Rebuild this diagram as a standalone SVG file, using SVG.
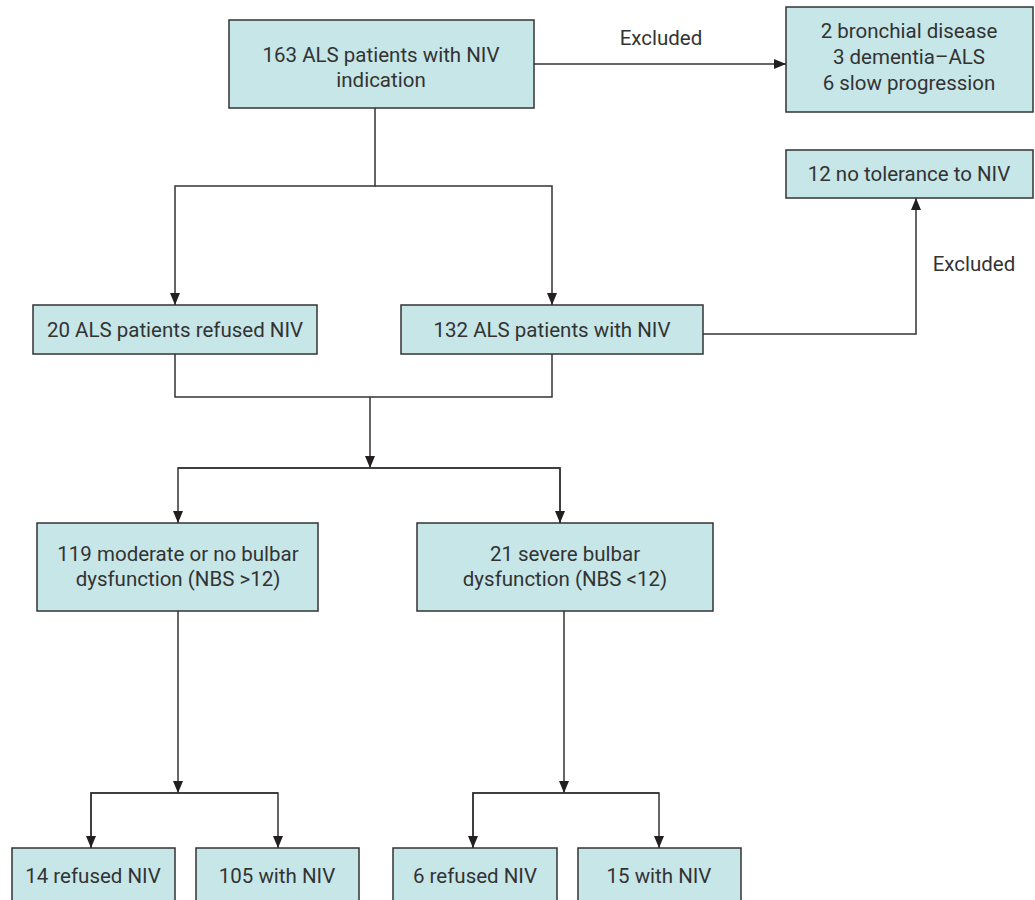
<svg xmlns="http://www.w3.org/2000/svg" width="1035" height="900" viewBox="0 0 1035 900">
<defs>
<marker id="ah" viewBox="0 0 12 10" refX="12" refY="5" markerWidth="12" markerHeight="10" markerUnits="userSpaceOnUse" orient="auto">
<path d="M0,0 L12,5 L0,10 Z" fill="#231f20"/>
</marker>
<style>
.box{fill:#c6e6e8;stroke:#333;stroke-width:1.5}
.t{font-family:Roboto,"Liberation Sans",sans-serif;font-size:20.5px;fill:#333;text-anchor:middle}
.c{fill:none;stroke:#333;stroke-width:1.5}
</style>
</defs>
<rect width="1035" height="900" fill="#fff"/>
<g id="n1"><rect class="box" x="229" y="20" width="305" height="88"/><text class="t" x="381" y="62">163 ALS patients with NIV</text><text class="t" x="381" y="87">indication</text></g>
<g id="n2"><rect class="box" x="786" y="7" width="247" height="105"/><text class="t" x="909" y="38">2 bronchial disease</text><text class="t" x="909" y="64">3 dementia–ALS</text><text class="t" x="909" y="90">6 slow progression</text></g>
<g id="n3"><rect class="box" x="786" y="150" width="247" height="48"/><text class="t" x="909" y="181">12 no tolerance to NIV</text></g>
<g id="n4"><rect class="box" x="33" y="305" width="284" height="49"/><text class="t" x="175" y="337">20 ALS patients refused NIV</text></g>
<g id="n5"><rect class="box" x="401" y="305" width="302" height="49"/><text class="t" x="552" y="337">132 ALS patients with NIV</text></g>
<g id="n6"><rect class="box" x="37" y="523" width="281" height="88"/><text class="t" x="178" y="561">119 moderate or no bulbar</text><text class="t" x="178" y="586">dysfunction (NBS &gt;12)</text></g>
<g id="n7"><rect class="box" x="417" y="523" width="296" height="88"/><text class="t" x="565" y="561">21 severe bulbar</text><text class="t" x="565" y="586">dysfunction (NBS &lt;12)</text></g>
<g id="n8"><rect class="box" x="12" y="848" width="163" height="62"/><text class="t" x="93" y="883">14 refused NIV</text></g>
<g id="n9"><rect class="box" x="196" y="848" width="163" height="62"/><text class="t" x="277" y="883">105 with NIV</text></g>
<g id="n10"><rect class="box" x="393" y="848" width="164" height="62"/><text class="t" x="475" y="883">6 refused NIV</text></g>
<g id="n11"><rect class="box" x="578" y="848" width="163" height="62"/><text class="t" x="659" y="883">15 with NIV</text></g>
<g id="connectors">
<path class="c" d="M534,64 H786" marker-end="url(#ah)"/>
<text class="t" x="661" y="45">Excluded</text>
<path class="c" d="M375,108 V186 H175 V305" marker-end="url(#ah)"/>
<path class="c" d="M375,186 H552 V305" marker-end="url(#ah)"/>
<path class="c" d="M703,334 H916 V198" marker-end="url(#ah)"/>
<text class="t" x="974" y="271">Excluded</text>
<path class="c" d="M175,354 V397 H552 V354"/>
<path class="c" d="M370,397 V468" marker-end="url(#ah)"/>
<path class="c" d="M560,523 V468 H178 V523" marker-end="url(#ah)"/>
<path class="c" d="M178,468 H560 V523" marker-end="url(#ah)"/>
<path class="c" d="M178,611 V793" marker-end="url(#ah)"/>
<path class="c" d="M91,848 V793 H278 V848" marker-end="url(#ah)"/>
<path class="c" d="M278,793 H91 V848" marker-end="url(#ah)"/>
<path class="c" d="M564,611 V793" marker-end="url(#ah)"/>
<path class="c" d="M473,848 V793 H659 V848" marker-end="url(#ah)"/>
<path class="c" d="M659,793 H473 V848" marker-end="url(#ah)"/>
</g>
</svg>
